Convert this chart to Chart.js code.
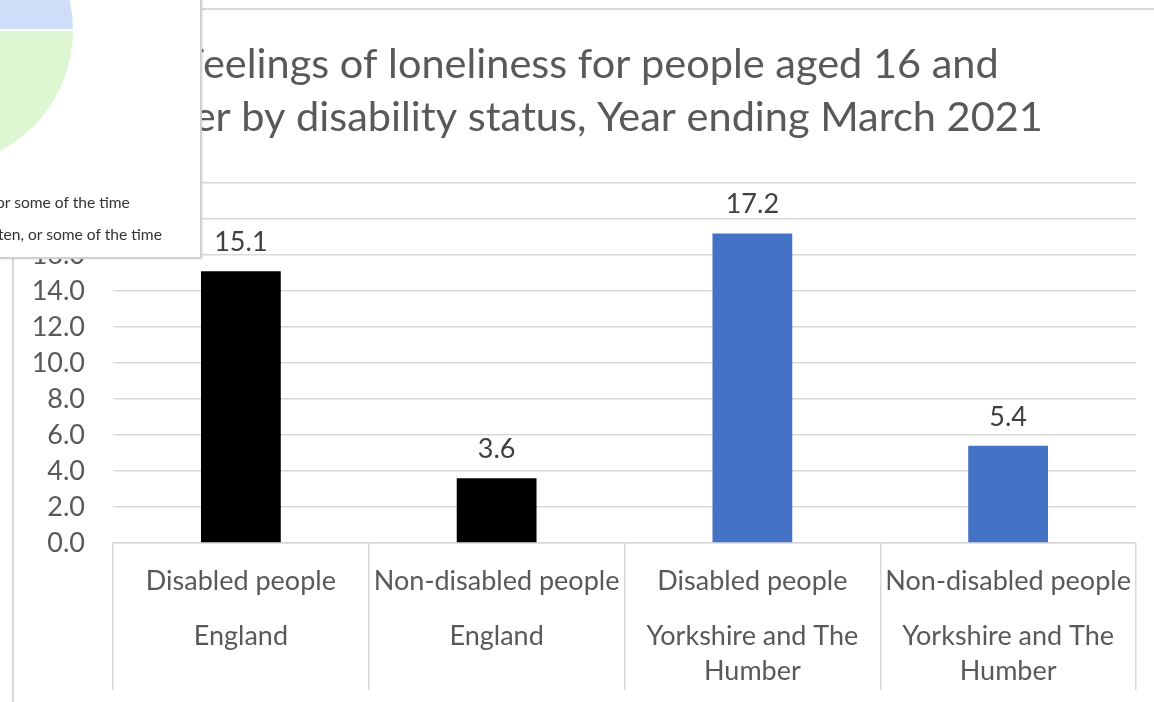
<!DOCTYPE html>
<html>
<head>
<meta charset="utf-8">
<script src="https://cdn.jsdelivr.net/npm/chart.js@4/dist/chart.umd.min.js"></script>
<style>
  html, body { margin: 0; padding: 0; background: #ffffff; }
  body { width: 1154px; height: 702px; position: relative; overflow: hidden; font-family: Lato, "Liberation Sans", sans-serif; }
  #frame { position: absolute; left: 12px; top: 8px; width: 1160px; height: 720px; border-left: 2px solid #D9D9D9; border-top: 2px solid #D9D9D9; box-sizing: border-box; }
  #main { position: absolute; left: 0; top: 0; }
  #popup { position: absolute; left: 0; top: 0; width: 200px; height: 257px; background: #ffffff; border-right: 2px solid #D0D0D0; border-bottom: 2px solid #D0D0D0; overflow: hidden; box-shadow: 1px 1px 2px rgba(0,0,0,0.08); }
  #pieBox { position: absolute; left: -203px; top: -109px; width: 278px; height: 278px; }
  .leg { position: absolute; font-family: Lato, "Liberation Sans", sans-serif; font-size: 15.6px; color: #333333; white-space: nowrap; }
</style>
</head>
<body>
<div id="frame"></div>
<canvas id="main" width="1154" height="702"></canvas>
<div id="popup">
  <div id="pieBox"><canvas id="pie" width="278" height="278"></canvas></div>
  <div class="leg" style="left:-4px; top:193px;">or some of the time</div>
  <div class="leg" style="left:-2px; top:225px;">ten, or some of the time</div>
</div>
<script>
// ---- data ----
const categories = ["Disabled people", "Non-disabled people", "Disabled people", "Non-disabled people"];
const regionLines = [["England"], ["England"], ["Yorkshire and The", "Humber"], ["Yorkshire and The", "Humber"]];
const values = [15.1, 3.6, 17.2, 5.4];
const barColors = ["#000000", "#000000", "#4472C4", "#4472C4"];
const titleLines = ["Feelings of loneliness for people aged 16 and", "older by disability status, Year ending March 2021"];
const yMin = 0, yMax = 20, yStep = 2;

// overlapping window (partial pie chart)
const pieValues = [28, 72];
const pieColors = ["#CEDEF8", "#DDF7D3"];

const FONT = "Lato, 'Liberation Sans', sans-serif";
const TEXT = "#595959";
const GRID = "#D9D9D9";
const LABEL_SIZE = 27;

const labelPlugin = {
  id: "valueAndCategoryLabels",
  afterDatasetsDraw(chart) {
    const ctx = chart.ctx;
    const meta = chart.getDatasetMeta(0);
    ctx.save();
    ctx.font = LABEL_SIZE + "px " + FONT;
    ctx.fillStyle = "#404040";
    ctx.textAlign = "center";
    ctx.textBaseline = "middle";
    meta.data.forEach((bar, i) => {
      ctx.fillText(values[i].toFixed(1), bar.x, bar.y - 29);
    });
    ctx.restore();
  },
  afterDraw(chart) {
    const ctx = chart.ctx;
    const xs = chart.scales.x;
    ctx.save();
    ctx.font = LABEL_SIZE + "px " + FONT;
    ctx.fillStyle = TEXT;
    ctx.textAlign = "center";
    ctx.textBaseline = "middle";
    categories.forEach((c, i) => {
      const x = xs.getPixelForValue(i);
      ctx.fillText(c, x, xs.top + 38);
      regionLines[i].forEach((line, j) => {
        ctx.fillText(line, x, xs.top + 93 + j * 35);
      });
    });
    // chart title
    ctx.font = "41.5px " + FONT;
    ctx.fillStyle = TEXT;
    titleLines.forEach((t, k) => {
      ctx.fillText(t, 590, 65 + k * 53);
    });
    ctx.restore();
  }
};

new Chart(document.getElementById("main"), {
  type: "bar",
  data: {
    labels: categories.map((c, i) => c + " " + regionLines[i].join(" ")),
    datasets: [{
      data: values,
      backgroundColor: barColors,
      borderWidth: 0,
      barPercentage: 0.312,
      categoryPercentage: 1.0
    }]
  },
  options: {
    responsive: false,
    animation: false,
    devicePixelRatio: 1,
    layout: { padding: { left: 0, right: 18, top: 183, bottom: 0 } },
    plugins: {
      legend: { display: false },
      tooltip: { enabled: false },
      title: { display: false }
    },
    scales: {
      x: {
        grid: { display: true, drawOnChartArea: false, drawTicks: true, tickLength: 147, offset: true, color: GRID, lineWidth: 1.5 },
        border: { display: true, color: GRID, width: 1.5 },
        ticks: { display: false },
        afterFit(scale) { scale.height = 159; }
      },
      y: {
        min: yMin,
        max: yMax,
        ticks: {
          stepSize: yStep,
          padding: 28,
          color: TEXT,
          font: { family: FONT, size: LABEL_SIZE },
          callback: (v) => Number(v).toFixed(1)
        },
        grid: { color: GRID, lineWidth: 1.5, drawTicks: false },
        border: { display: false },
        afterFit(scale) { scale.width = 113; }
      }
    }
  },
  plugins: [labelPlugin]
});

new Chart(document.getElementById("pie"), {
  type: "pie",
  data: {
    labels: ["Slice A", "Slice B"],
    datasets: [{ data: pieValues, backgroundColor: pieColors, borderColor: "#ffffff", borderWidth: 2 }]
  },
  options: {
    responsive: false,
    animation: false,
    devicePixelRatio: 1,
    rotation: 90 - 360 * pieValues[0] / (pieValues[0] + pieValues[1]),
    layout: { padding: 0 },
    plugins: { legend: { display: false }, tooltip: { enabled: false } }
  }
});
</script>
</body>
</html>
